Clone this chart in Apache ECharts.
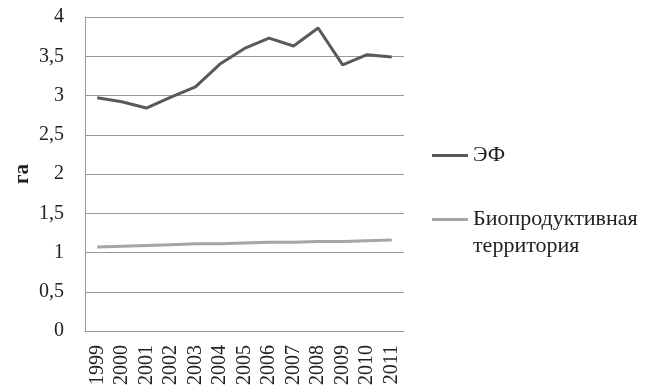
<!DOCTYPE html>
<html>
<head>
<meta charset="utf-8">
<style>
  html, body { margin: 0; padding: 0; background: #ffffff; }
  #chart { width: 646px; height: 392px; }
</style>
<script src="https://cdn.jsdelivr.net/npm/echarts@6/dist/echarts.min.js"></script>
</head>
<body>
<div id="chart"></div>
<script>
// Years on the horizontal axis
const years = ['1999', '2000', '2001', '2002', '2003', '2004', '2005', '2006', '2007', '2008', '2009', '2010', '2011'];
// Ecological footprint, global hectares per person
const footprint = [2.97, 2.92, 2.84, 2.98, 3.11, 3.40, 3.60, 3.73, 3.63, 3.86, 3.39, 3.52, 3.49];
// Biocapacity, global hectares per person
const biocapacity = [1.07, 1.08, 1.09, 1.10, 1.11, 1.11, 1.12, 1.13, 1.13, 1.14, 1.14, 1.15, 1.16];
// Series names shown in the legend
const seriesNames = ['ЭФ', 'Биопродуктивная\nтерритория'];

const font = '"Liberation Serif", "Times New Roman", serif';
const chart = echarts.init(document.getElementById('chart'));

const legendText = { fontFamily: font, fontSize: 22, color: '#222', lineHeight: 27 };
const legendBase = {
  orient: 'vertical',
  left: 432,
  padding: 0,
  itemWidth: 36,
  itemHeight: 3,
  icon: 'path://M0,0L36,0L36,3L0,3Z',
  itemStyle: { borderWidth: 0 },
  selectedMode: false,
  textStyle: legendText
};

chart.setOption({
  animation: false,
  backgroundColor: '#ffffff',
  grid: { left: 85, right: 242, top: 17, bottom: 61 },
  legend: [
    Object.assign({}, legendBase, { data: [seriesNames[0]], top: 142 }),
    Object.assign({}, legendBase, {
      data: [seriesNames[1]],
      top: 179,
      // an empty first line keeps the marker level with the first word
      formatter: name => '\n' + name
    })
  ],
  xAxis: {
    type: 'category',
    data: years,
    boundaryGap: true,
    axisLine: { lineStyle: { color: '#9a9a9a', width: 1 } },
    axisTick: { show: false },
    axisLabel: { interval: 0, rotate: 90, margin: 14, fontFamily: font, fontSize: 20, color: '#222' }
  },
  yAxis: {
    type: 'value',
    min: 0,
    max: 4,
    interval: 0.5,
    name: 'га',
    nameLocation: 'middle',
    nameGap: 52,
    nameTextStyle: { fontFamily: font, fontSize: 21, fontWeight: 'bold', color: '#222' },
    axisLine: { show: true, lineStyle: { color: '#9a9a9a', width: 1 } },
    axisTick: { show: false },
    splitLine: { lineStyle: { color: '#9a9a9a', width: 1 } },
    axisLabel: {
      margin: 21,
      fontFamily: font,
      fontSize: 20,
      color: '#222',
      formatter: v => String(v).replace('.', ',')
    }
  },
  series: [
    {
      name: seriesNames[0],
      type: 'line',
      data: footprint,
      symbol: 'none',
      lineStyle: { color: '#595959', width: 3 },
      itemStyle: { color: '#595959' }
    },
    {
      name: seriesNames[1],
      type: 'line',
      data: biocapacity,
      symbol: 'none',
      lineStyle: { color: '#a6a6a6', width: 3 },
      itemStyle: { color: '#a6a6a6' }
    }
  ]
});
</script>
</body>
</html>
